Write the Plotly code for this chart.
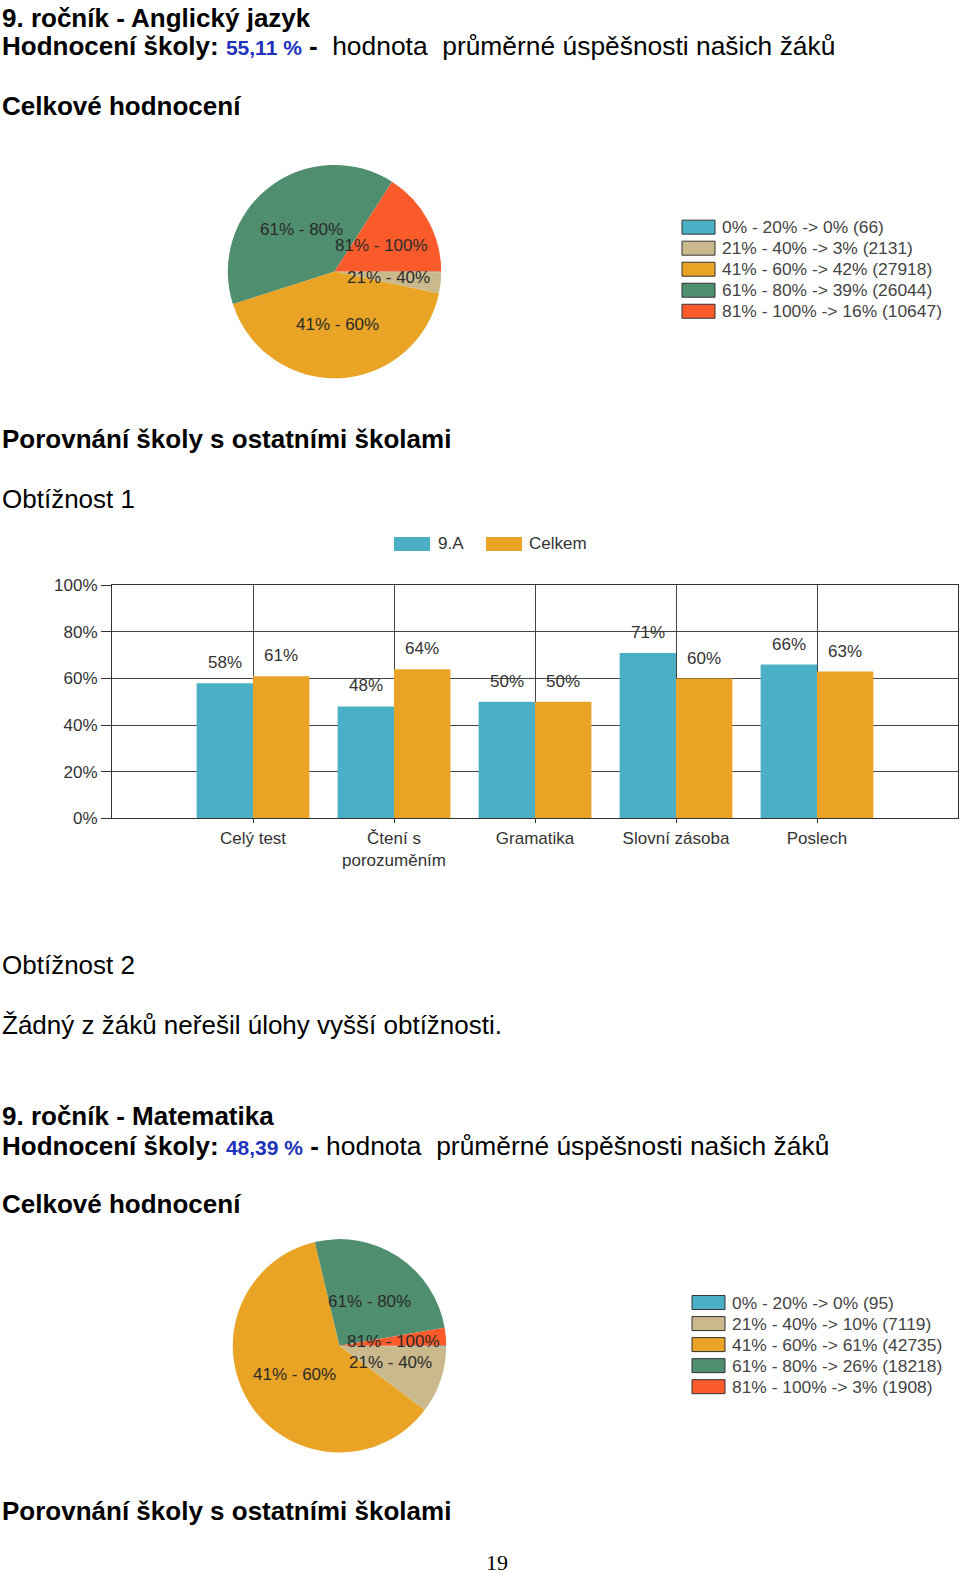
import math
import plotly.graph_objects as go

W, H = 960, 1579

# ---------------- data ----------------
pie_bins = ["0% - 20%", "21% - 40%", "41% - 60%", "61% - 80%", "81% - 100%"]
eng_counts = [66, 2131, 27918, 26044, 10647]
mat_counts = [95, 7119, 42735, 18218, 1908]

bar_categories = ["Celý test", "Čtení s<br>porozuměním", "Gramatika", "Slovní zásoba", "Poslech"]
class_values = [58, 48, 50, 71, 66]
total_values = [61, 64, 50, 60, 63]
series_names = ["9.A", "Celkem"]
y_ticks = [0, 20, 40, 60, 80, 100]

eng_score = "55,11 %"
mat_score = "48,39 %"

# ---------------- style ----------------
FONT = "Liberation Sans, Arial, Helvetica, sans-serif"
BLUE = "#4bb0c6"
ORANGE = "#e9a426"
pie_colors = [BLUE, "#c9b98c", ORANGE, "#4f8e6e", "#fb5b2b"]
SCORE_BLUE = "#2233bb"

# vertical page mapping compensation (observed = A * y + B)
A, B = 0.9887, 8.2


def Y(t):
    return (t - B) / A


def px(x):
    return x / W


def py(y):
    return 1 - y / H


fig = go.Figure()
annotations = []
shapes = []


def text(x, y, s, size=26, color="#000", xanchor="left", family=FONT, raw=False):
    yy = y if raw else Y(y)
    annotations.append(dict(x=px(x), y=py(yy), xref="paper", yref="paper", text=s,
                            showarrow=False, xanchor=xanchor, yanchor="middle",
                            font=dict(size=size, color=color, family=family)))


def add_pie(counts, cx, cy, r):
    total = sum(counts)
    shares = [round(100 * c / total) for c in counts]
    cyf = Y(cy)
    fig.add_trace(go.Pie(
        labels=pie_bins, values=counts, textinfo="none",
        sort=False, direction="clockwise", rotation=90,
        marker=dict(colors=pie_colors, line=dict(width=0)),
        domain=dict(x=[px(cx - r), px(cx + r)], y=[py(cyf + r), py(cyf - r)]),
        showlegend=False))
    cum = 0
    for b, c, s in zip(pie_bins, counts, shares):
        mid = (cum + c / 2) / total * 2 * math.pi
        cum += c
        if s < 1:
            continue
        text(cx + 0.5 * r * math.cos(mid), cyf + 0.5 * r * math.sin(mid), b,
             size=17, color="#2b2b2b", xanchor="center", raw=True)
    return shares


def add_pie_legend(counts, shares, x0, y0, dy):
    for i, (b, c, s, col) in enumerate(zip(pie_bins, counts, shares, pie_colors)):
        yc = y0 + i * dy
        shapes.append(dict(type="rect", xref="paper", yref="paper",
                           x0=px(x0), x1=px(x0 + 33), y0=py(Y(yc + 7)), y1=py(Y(yc - 7)),
                           fillcolor=col, line=dict(color="#333", width=1)))
        text(x0 + 38, yc, f"{b} -> {s}% ({c})", size=17.4, color="#444")


def score_line(y, score, gap):
    s = ("<b>Hodnocení školy: </b>"
         f"<b><span style='color:{SCORE_BLUE};font-size:21px'>{score}</span> -</b>"
         + gap + "<span style='font-size:26.4px'>hodnota\u00a0 průměrné úspěšnosti našich žáků</span>")
    text(0, y, s)


# ---------------- English section ----------------
text(0, 9, "<b>9. ročník - Anglický jazyk</b>", raw=True)
score_line(45.3, eng_score, "\u00a0\u00a0")
text(0, 104.8, "<b>Celkové hodnocení</b>")
eng_shares = add_pie(eng_counts, 334.5, 271, 108)
add_pie_legend(eng_counts, eng_shares, 682, 226.5, 21.05)
text(0, 438.2, "<b>Porovnání školy s ostatními školami</b>")
text(0, 498.6, "Obtížnost 1")

for name, col, sx, tx in ((series_names[0], BLUE, 394, 436), (series_names[1], ORANGE, 486, 527)):
    shapes.append(dict(type="rect", xref="paper", yref="paper",
                       x0=px(sx), x1=px(sx + 36), y0=py(Y(550.5)), y1=py(Y(536.5)),
                       fillcolor=col, line=dict(width=0)))
    text(tx, 543.5, name, size=17, color="#333")

fig.add_trace(go.Bar(x=bar_categories, y=class_values, name=series_names[0],
                     marker=dict(color=BLUE, line=dict(width=0)), showlegend=False))
fig.add_trace(go.Bar(x=bar_categories, y=total_values, name=series_names[1],
                     marker=dict(color=ORANGE, line=dict(width=0)), showlegend=False))

PX0, PX1, PY0, PY1 = 112, 958, 585, 818
cat_px = (PX1 - PX0) / (len(bar_categories) + 1)
off = cat_px * 0.8 / 4
for j, c in enumerate(bar_categories):
    for vals, sgn in ((class_values, -1), (total_values, 1)):
        annotations.append(dict(x=c, y=vals[j], xref="x", yref="y", text=f"{vals[j]}%",
                                showarrow=False, xshift=sgn * off, yanchor="bottom", yshift=9,
                                font=dict(size=17, color="#333", family=FONT)))

# ---------------- Obtížnost 2 ----------------
text(0, 965, "Obtížnost 2")
text(0, 1025.4, "Žádný z žáků neřešil úlohy vyšší obtížnosti.")

# ---------------- Maths section ----------------
text(0, 1116, "<b>9. ročník - Matematika</b>")
score_line(1146.3, mat_score, "\u00a0")
text(0, 1203.7, "<b>Celkové hodnocení</b>")
mat_shares = add_pie(mat_counts, 339.5, 1346, 108)
add_pie_legend(mat_counts, mat_shares, 692, 1302.7, 21.05)
text(0, 1511, "<b>Porovnání školy s ostatními školami</b>")
text(497, 1572, "19", size=22, xanchor="center",
     family="Liberation Serif, Times New Roman, serif", raw=True)

axis_common = dict(showline=True, mirror=True, linecolor="#333", linewidth=1,
                   showgrid=True, gridcolor="#444", gridwidth=1, ticks="outside",
                   tickcolor="#333", tickfont=dict(size=17, color="#333", family=FONT),
                   zeroline=False, fixedrange=True)

fig.update_layout(
    width=W, height=H,
    margin=dict(l=0, r=0, t=0, b=0),
    paper_bgcolor="white", plot_bgcolor="white",
    barmode="group", bargap=0.2, bargroupgap=0,
    xaxis=dict(domain=[px(PX0), px(PX1)], type="category",
               range=[-1, len(bar_categories)], ticklen=4, **axis_common),
    yaxis=dict(domain=[py(Y(PY1)), py(Y(PY0))], range=[0, 100], tickvals=y_ticks,
               ticktext=[f"{v}%" for v in y_ticks], ticklen=10, **axis_common),
    annotations=annotations, shapes=shapes,
    font=dict(family=FONT),
)

reset_css = ("var h=document.documentElement,b=document.body;"
             "h.style.margin='0';h.style.padding='0';h.style.overflow='hidden';"
             "b.style.margin='0';b.style.padding='0';b.style.overflow='hidden';")
fig.write_html("out.html", config={"displayModeBar": False}, post_script=reset_css)
